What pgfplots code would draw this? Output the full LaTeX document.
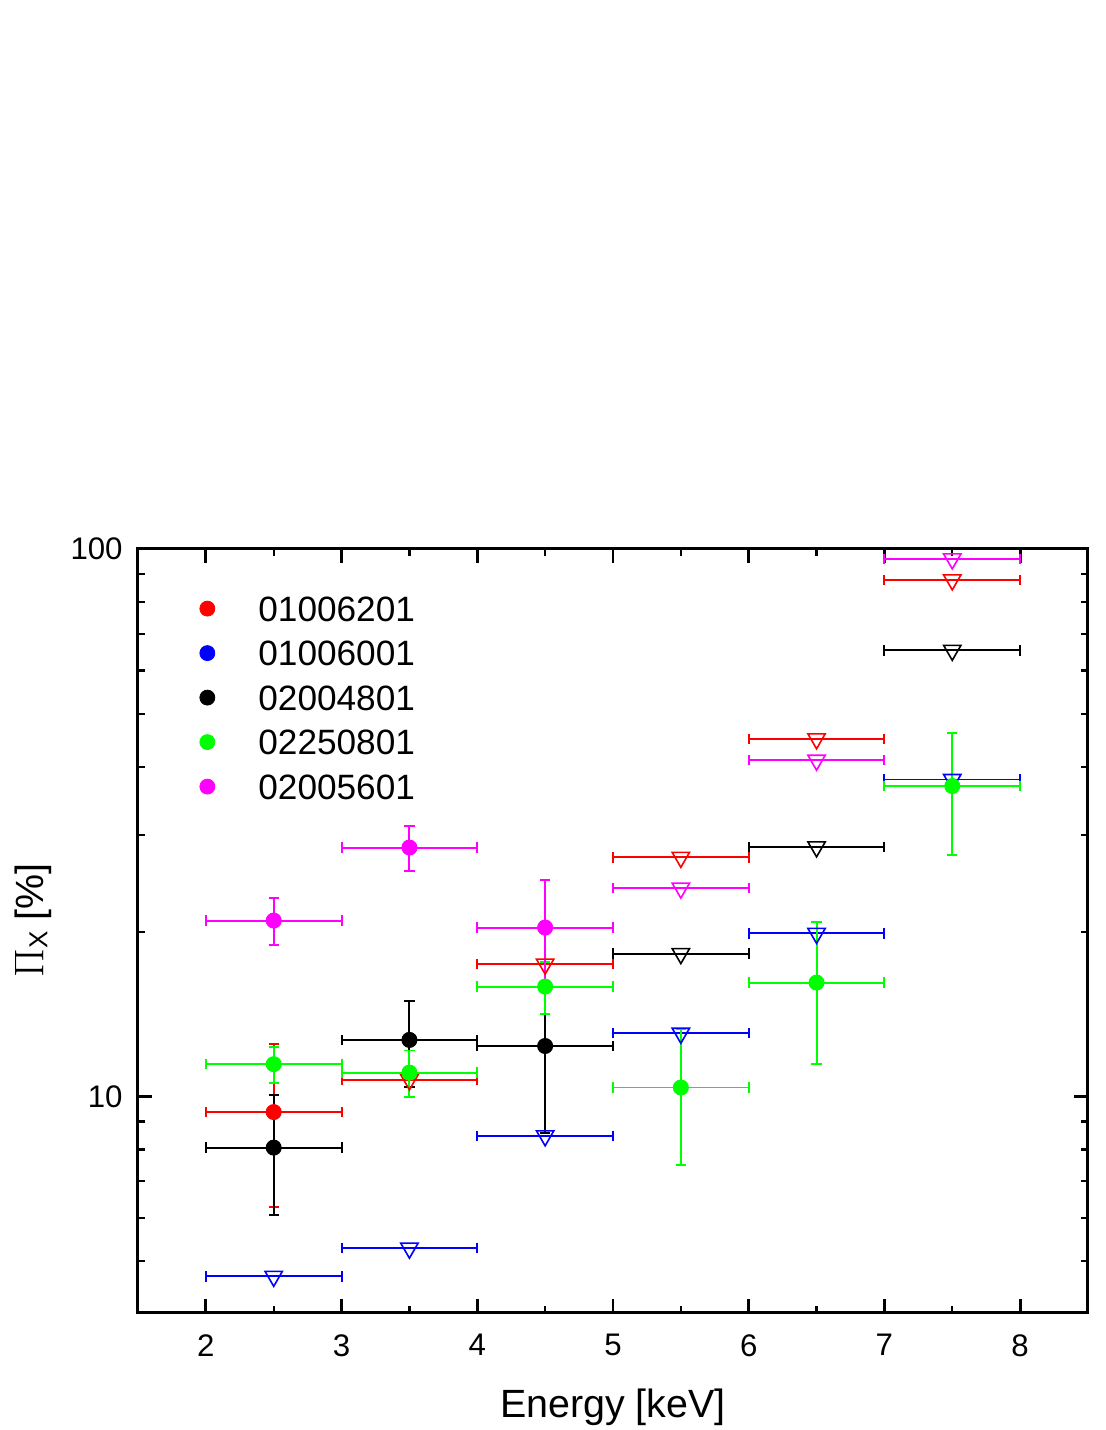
\documentclass[border=0pt]{standalone}
\usepackage{fontspec}
\setmainfont{Liberation Sans}
\usepackage{pgfplots}
\pgfplotsset{compat=1.18}
\usepackage{pgfplotstable}

\definecolor{cred}{RGB}{255,0,0}
\definecolor{cblue}{RGB}{0,0,255}
\definecolor{cgreen}{RGB}{0,255,0}
\definecolor{cmag}{RGB}{255,0,255}

% detections: x y ex ey ; upper limits: x y ex
\pgfplotstableread{
x y ex ey
2.5 9.36 0.5 3.09
}\reddet
\pgfplotstableread{
x y ex
3.5 10.72 0.5
4.5 17.44 0.5
5.5 27.33 0.5
6.5 45.0 0.5
7.5 87.8 0.5
}\redul
\pgfplotstableread{
x y ex
2.5 4.69 0.5
3.5 5.28 0.5
4.5 8.47 0.5
5.5 13.04 0.5
6.5 19.85 0.5
7.5 37.93 0.5
}\blueul
\pgfplotstableread{
x y ex ey
2.5 8.06 0.5 2.00
3.5 12.68 0.5 2.27
4.5 12.36 0.5 3.78
}\blackdet
\pgfplotstableread{
x y ex
5.5 18.23 0.5
6.5 28.56 0.5
7.5 65.3 0.5
}\blackul
\pgfplotstableread{
x y ex ey
2.5 11.45 0.5 0.88
3.5 11.05 0.5 1.08
4.5 15.87 0.5 1.75
5.5 10.38 0.5 2.90
6.5 16.14 0.5 4.70
7.5 36.9 0.5 9.26
}\greendet
\pgfplotstableread{
x y ex ey
2.5 20.95 0.5 2.07
3.5 28.48 0.5 2.68
4.5 20.34 0.5 4.50
}\magdet
\pgfplotstableread{
x y ex
5.5 24.01 0.5
6.5 41.12 0.5
7.5 95.9 0.5
}\magul

\pgfplotsset{
  det/.style={only marks, color=#1, mark=*, mark size=3.75pt,
    mark options={solid, fill=#1, draw=#1, line width=0.5pt},
    error bars/x dir=both, error bars/x explicit,
    error bars/y dir=both, error bars/y explicit,
    error bars/error bar style={line width=0.95pt, #1},
    error bars/error mark options={rotate=90, mark size=2.6pt, line width=0.95pt, #1}},
  ul/.style={only marks, color=#1, mark=triangle, mark size=5pt,
    mark options={solid, rotate=180, fill=white, draw=#1, line width=0.8pt},
    error bars/x dir=both, error bars/x explicit,
    error bars/error bar style={line width=0.95pt, #1},
    error bars/error mark options={rotate=90, mark size=2.6pt, line width=0.95pt, #1}},
}

\begin{document}
\begin{tikzpicture}
\useasboundingbox (-69pt,-58.5pt) rectangle (483.5pt,656.5pt);
\begin{axis}[
  scale only axis, width=475pt, height=382pt,
  xmin=1.5, xmax=8.5, ymode=log, ymin=4.02, ymax=100,
  xtick={2,3,4,5,6,7,8}, xticklabels={2,3,4,5,6,7,8},
  minor xtick={2.5,3.5,4.5,5.5,6.5,7.5},
  ytick={10,100}, yticklabels={10,100},
  minor ytick={5,6,7,8,9,20,30,40,50,60,70,80,90},
  tick align=inside,
  major tick length=7pt, minor tick length=3.5pt,
  major tick style={line width=1.4pt, black},
  minor tick style={line width=1.1pt, black},
  axis line style={line width=1.5pt},
  tick label style={font=\fontsize{15.6}{18}\selectfont, inner sep=0pt},
  xticklabel style={yshift=-10.5pt},
  yticklabel style={xshift=-7.5pt},
  xlabel={Energy [keV]},
  xlabel style={at={(axis description cs:0.5,0)}, anchor=north, yshift=-38pt,
    inner sep=0pt, font=\fontsize{19.7}{22}\selectfont},
  ylabel={{\fontsize{22}{24}\selectfont$\Pi$}\raisebox{-2pt}{\fontsize{13}{14}\selectfont X} [\%]},
  ylabel style={at={(axis description cs:-0.0905,0.514)}, anchor=south,
    inner sep=0pt, font=\fontsize{19.7}{22}\selectfont},
  legend style={draw=none, fill=none, at={(axis description cs:0.0647,0.939)},
    anchor=north west, inner sep=0pt, row sep=9.65pt,
    font=\fontsize{17.6}{20}\selectfont,
    nodes={inner sep=0pt, text height=12.6pt, text depth=0pt}},
  legend cell align=left,
  legend image code/.code={\draw[#1] plot coordinates {(0pt,0pt)};
    \path[draw=none, fill=none] (-3.75pt,-1pt) rectangle (25.5pt,1pt);},
]
\addlegendimage{mark=*, mark size=3.75pt, color=cred, mark options={fill=cred}}
\addlegendentry{01006201}
\addlegendimage{mark=*, mark size=3.75pt, color=cblue, mark options={fill=cblue}}
\addlegendentry{01006001}
\addlegendimage{mark=*, mark size=3.75pt, color=black, mark options={fill=black}}
\addlegendentry{02004801}
\addlegendimage{mark=*, mark size=3.75pt, color=cgreen, mark options={fill=cgreen}}
\addlegendentry{02250801}
\addlegendimage{mark=*, mark size=3.75pt, color=cmag, mark options={fill=cmag}}
\addlegendentry{02005601}

\addplot[forget plot, det=cred] table[x=x, y=y, x error=ex, y error=ey] {\reddet};
\addplot[forget plot, ul=cred] table[x=x, y=y, x error=ex] {\redul};
\addplot[forget plot, ul=cblue] table[x=x, y=y, x error=ex] {\blueul};
\addplot[forget plot, det=black] table[x=x, y=y, x error=ex, y error=ey] {\blackdet};
\addplot[forget plot, ul=black] table[x=x, y=y, x error=ex] {\blackul};
\addplot[forget plot, det=cgreen] table[x=x, y=y, x error=ex, y error=ey] {\greendet};
\addplot[forget plot, det=cmag] table[x=x, y=y, x error=ex, y error=ey] {\magdet};
\addplot[forget plot, ul=cmag] table[x=x, y=y, x error=ex] {\magul};
\end{axis}
\end{tikzpicture}
\end{document}
